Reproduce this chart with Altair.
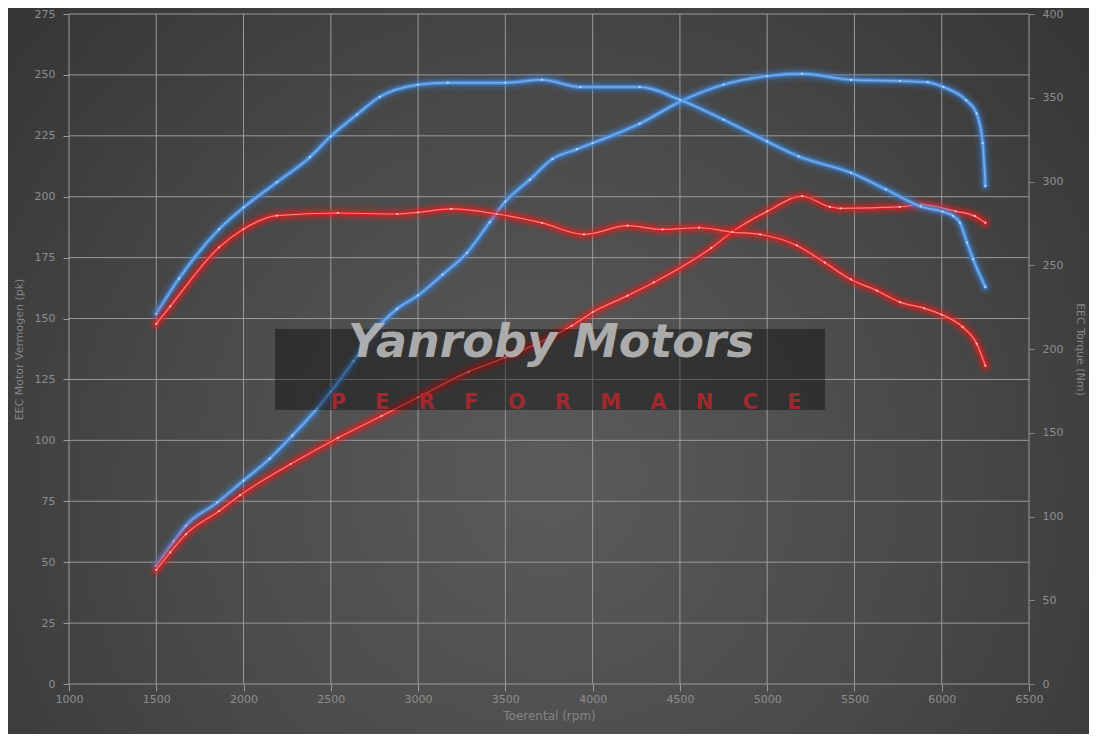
import altair as alt
import pandas as pd

# ---------------- data ----------------
X_TICKS = list(range(1000, 6501, 500))
PK_TICKS = list(range(0, 276, 25))
NM_TICKS = list(range(0, 401, 50))

BLUE_PK_RPM = [1500, 1600, 1670, 1850, 2000, 2150, 2280, 2420, 2500, 2630, 2740, 2880, 3000, 3140,
               3280, 3410, 3500, 3640, 3770, 3910, 4000, 4270, 4500, 4750, 5000, 5200, 5480, 5760,
               5920, 6010, 6140, 6200, 6235, 6250]
BLUE_PK = [48.5, 58.5, 65, 74.5, 83.5, 92.5, 102, 113, 120, 132.5, 144, 154, 159.5, 168,
           177, 189.5, 198, 207, 215.5, 219.5, 222, 230, 239, 246, 249.5, 250.5, 248, 247.5,
           247, 245, 239.6, 234.2, 222, 204.5]

RED_PK_RPM = [1500, 1580, 1670, 1860, 1980, 2270, 2540, 2790, 3000, 3290, 3500, 3880, 4000, 4200,
              4350, 4680, 4800, 5000, 5200, 5360, 5420, 5760, 5880, 6080, 6190, 6250]
RED_PK = [46.8, 54, 61.5, 71, 77.5, 90.3, 101, 110, 117.7, 128.2, 134, 147, 152.6, 159.4,
          164.8, 179, 185.6, 194, 200.2, 195.8, 195.2, 195.8, 196.8, 194, 192, 189.3]

BLUE_NM_RPM = [1500, 1630, 1860, 2000, 2190, 2380, 2500, 2650, 2780, 3000, 3170, 3500, 3710, 3930,
               4270, 4500, 4750, 5000, 5180, 5480, 5680, 5880, 6005, 6065, 6105, 6145, 6180, 6250]
BLUE_NM = [221, 242, 271.5, 284.5, 299.5, 314.5, 327, 340, 350.5, 357.8, 359, 359, 360.7, 356.4,
           356.4, 348.8, 336.9, 323.9, 315, 305.2, 295.3, 285.1, 282, 279.5, 275.3, 263.5, 253.6, 237]

RED_NM_RPM = [1500, 1580, 1860, 2000, 2190, 2540, 2880, 3000, 3190, 3450, 3710, 3950, 4200, 4400,
              4610, 4800, 4960, 5170, 5330, 5480, 5630, 5760, 5900, 6000, 6120, 6200, 6250]
RED_NM = [215, 225.5, 260.7, 271.6, 279.6, 281.2, 280.6, 281.6, 283.6, 280.6, 275.3, 268.4, 273.6, 271.4,
          272.4, 269.8, 268.4, 261.8, 251.6, 241.5, 234.8, 228, 224.3, 220.5, 213.1, 203.2, 190]

X_TITLE = "Toerental (rpm)"
LEFT_TITLE = "EEC Motor Vermogen (pk)"
RIGHT_TITLE = "EEC Torque (Nm)"
WM_TITLE = "Yanroby Motors"
WM_SUB = "PERFORMANCE"

# ---------------- layout ----------------
W, H = 960, 670
PAD = {"left": 61, "top": 6, "right": 60, "bottom": 50}

LABEL_COLOR = "#8e8e8e"
TITLE_COLOR = "#858585"
GRID_COLOR = "#9a9a9a"
FONT = "DejaVu Sans"

X = alt.X("rpm:Q", scale=alt.Scale(domain=[1000, 6500], nice=False, zero=False),
          axis=alt.Axis(values=X_TICKS, format="d", labelFlush=False, grid=False, domain=False,
                        tickColor=GRID_COLOR, tickSize=7,
                        labelColor=LABEL_COLOR, labelFont=FONT, labelFontSize=11, labelPadding=2,
                        title=X_TITLE, titleColor=TITLE_COLOR, titleFont=FONT, titleFontSize=12,
                        titleFontWeight="normal", titlePadding=6, zindex=2))

Y_LEFT = alt.Y("pk:Q", scale=alt.Scale(domain=[0, 275], nice=False, zero=True),
               axis=alt.Axis(values=PK_TICKS, format="d", labelFlush=False, grid=False, domain=False,
                             tickColor=GRID_COLOR, tickSize=6,
                             labelColor=LABEL_COLOR, labelFont=FONT, labelFontSize=11, labelPadding=8,
                             title=LEFT_TITLE, titleColor=TITLE_COLOR, titleFont=FONT, titleFontSize=11,
                             titleFontWeight="normal", titlePadding=10, zindex=2))

Y_RIGHT = alt.Y("nm:Q", scale=alt.Scale(domain=[0, 400], nice=False, zero=True),
                axis=alt.Axis(orient="right", values=NM_TICKS, format="d", labelFlush=False, grid=False,
                              domain=False, tickColor="#8a8a8a",
                              tickSize=5, labelColor=LABEL_COLOR, labelFont=FONT, labelFontSize=11,
                              labelPadding=8, title=RIGHT_TITLE, titleColor=TITLE_COLOR, titleFont=FONT,
                              titleFontSize=11, titleFontWeight="normal", titlePadding=12, zindex=2))

dummy = pd.DataFrame({"a": [0]})

bg = alt.Chart(dummy).mark_rect(
    fill={"gradient": "radial", "x1": 0.5, "y1": 0.6, "r1": 0, "x2": 0.5, "y2": 0.6, "r2": 0.75,
          "stops": [{"offset": 0, "color": "#5b5b5b"}, {"offset": 0.45, "color": "#4a4a4a"},
                    {"offset": 0.8, "color": "#393939"}, {"offset": 1, "color": "#313131"}]}
).encode(x=alt.value(-PAD["left"]), x2=alt.value(W + PAD["right"]),
         y=alt.value(-PAD["top"]), y2=alt.value(H + PAD["bottom"]))

vgrid = alt.Chart(pd.DataFrame({"rpm": X_TICKS})).mark_rule(color=GRID_COLOR, strokeWidth=1).encode(
    x=X, y=alt.value(0), y2=alt.value(H))
hgrid = alt.Chart(pd.DataFrame({"pk": PK_TICKS})).mark_rule(color=GRID_COLOR, strokeWidth=1).encode(
    y=Y_LEFT, x=alt.value(0), x2=alt.value(W))

BLUE_STYLE = [(15, 0.10, "#3b8cf0"), (9, 0.22, "#3b8cf0"), (4.5, 0.85, "#4589d8"), (1.5, 0.7, "#90c0f5")]
RED_STYLE = [(15, 0.14, "#ff1010"), (9, 0.28, "#ff1a1a"), (3.5, 0.92, "#d81f1f"), (1.2, 0.8, "#ff9a9a")]


def curve(df, y, styles, dot):
    layers = []
    for w, o, c in styles:
        layers.append(alt.Chart(df).mark_line(interpolate="monotone", strokeWidth=w, opacity=o, color=c,
                                              strokeCap="round", strokeJoin="round").encode(x=X, y=y))
    layers.append(alt.Chart(df).mark_point(filled=True, size=5, color=dot, opacity=0.8).encode(x=X, y=y))
    return layers


blue_pk = pd.DataFrame({"rpm": BLUE_PK_RPM, "pk": BLUE_PK})
red_pk = pd.DataFrame({"rpm": RED_PK_RPM, "pk": RED_PK})
blue_nm = pd.DataFrame({"rpm": BLUE_NM_RPM, "nm": BLUE_NM})
red_nm = pd.DataFrame({"rpm": RED_NM_RPM, "nm": RED_NM})

left = alt.layer(bg, vgrid, hgrid,
                 *curve(blue_pk, Y_LEFT, BLUE_STYLE, "#d5e8ff"),
                 *curve(red_pk, Y_LEFT, RED_STYLE, "#ffd5d5"))
right = alt.layer(*curve(blue_nm, Y_RIGHT, BLUE_STYLE, "#d5e8ff"),
                  *curve(red_nm, Y_RIGHT, RED_STYLE, "#ffd5d5"))

wm_rect = alt.Chart(dummy).mark_rect(color="#000000", opacity=0.38).encode(
    x=alt.value(206), x2=alt.value(756), y=alt.value(315), y2=alt.value(396))
wm_title = alt.Chart(dummy).mark_text(text=WM_TITLE, font=FONT, fontSize=46, fontWeight="bold",
                                      fontStyle="italic", color="#b8b8b8", opacity=0.9,
                                      align="center", baseline="alphabetic").encode(
    x=alt.value(482), y=alt.value(343))
wm_sub = alt.Chart(dummy).mark_text(text="\u00a0\u00a0\u00a0\u00a0".join(WM_SUB), font=FONT, fontSize=21,
                                    fontWeight="bold", color="#c4262b", opacity=0.75,
                                    align="center", baseline="alphabetic").encode(
    x=alt.value(497), y=alt.value(395))

chart = alt.layer(left, right, wm_rect, wm_title, wm_sub).resolve_scale(y="independent").properties(
    width=W, height=H, autosize=alt.AutoSizeParams(type="none"), padding=PAD, background="#353535"
).configure_view(stroke=None)

chart.save("out.html", embed_options={"renderer": "svg", "actions": False})
